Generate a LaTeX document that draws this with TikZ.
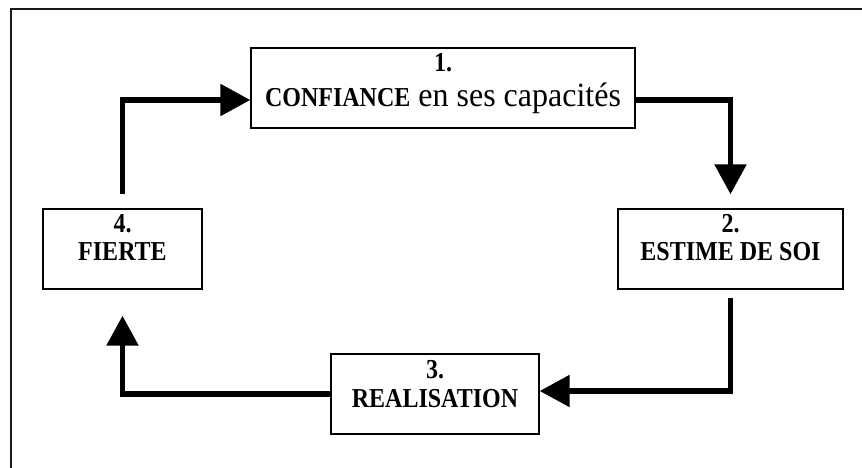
\documentclass[tikz,border=0pt]{standalone}
\usepackage{fontspec}
\setmainfont{Liberation Serif}
\usetikzlibrary{arrows.meta,calc}
\newcommand{\vstretch}[1]{\scalebox{1}[1.14]{#1}}
\tikzset{
  box/.style={draw, line width=1.4pt, inner sep=0pt, fill=white},
  lbl/.style={anchor=base, inner sep=0pt, font=\bfseries\fontsize{24}{27}\selectfont},
  flow/.style={line width=5.5pt, line join=miter, -{Triangle[length=30pt,width=31pt]}},
  frame/.style={line width=2pt, draw=black!90}
}
\begin{document}
\begin{tikzpicture}[x=1pt,y=-1pt]
\useasboundingbox (0,0) rectangle (862,468);
\clip (0,0) rectangle (862,468);
\draw[frame] (11,475) -- (11,9.5) -- (870,9.5);
% boxes
\node[box, minimum width=384pt, minimum height=80pt] (b1) at (443,88) {};
\node[box, minimum width=225pt, minimum height=80pt] (b2) at (730.5,249) {};
\node[box, minimum width=208pt, minimum height=80pt] (b3) at (435,394) {};
\node[box, minimum width=159pt, minimum height=80pt] (b4) at (122.5,249) {};
% texts
\node[lbl] (t1a) at (443,72) {\vstretch{1.}};
\node[lbl] (t1b) at (443,107) {\vstretch{CONFIANCE}\mdseries\fontsize{32}{35}\selectfont\scalebox{1}[1.06]{ en ses capacités}};
\node[lbl] (t2a) at (730.5,232) {\vstretch{2.}};
\node[lbl] (t2b) at (730.5,260) {\vstretch{ESTIME DE SOI}};
\node[lbl] (t3a) at (435,378) {\vstretch{3.}};
\node[lbl] (t3b) at (435,407) {\vstretch{REALISATION}};
\node[lbl] (t4a) at (122.5,232) {\vstretch{4.}};
\node[lbl] (t4b) at (122.5,260) {\vstretch{FIERTE}};
% connectors
\draw[flow] ($(b4.north)+(0,-14)$) |- ($(b1.west)+(0,12)$);
\draw[flow] ($(b1.east)+(0,12)$) -| ($(b2.north)+(0,-14)$);
\draw[flow] ($(b2.south)+(0,8)$) |- ($(b3.east)+(0,-3)$);
\draw[flow] (b3.west) -| ($(b4.south)+(0,26)$);
\end{tikzpicture}
\end{document}
